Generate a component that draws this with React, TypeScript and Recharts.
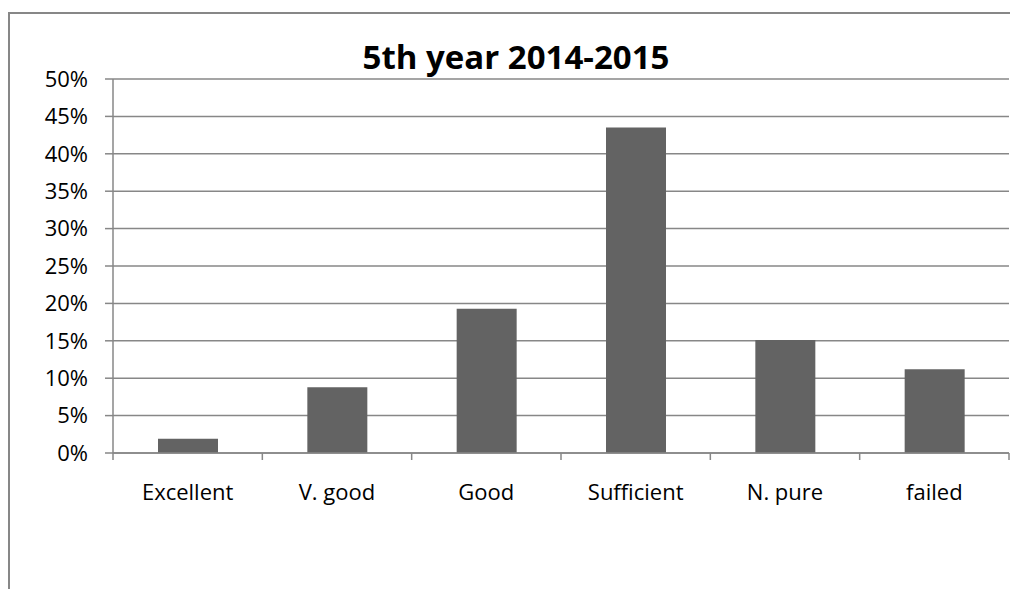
import React from "react";
import { BarChart, Bar, XAxis, YAxis, CartesianGrid } from "recharts";

// Grade distribution, share of students (%)
const grades = ["Excellent", "V. good", "Good", "Sufficient", "N. pure", "failed"];
const shares = [1.9, 8.8, 19.3, 43.5, 15.1, 11.2];
const yTicks = [0, 5, 10, 15, 20, 25, 30, 35, 40, 45, 50];

const chartTitle = "5th year 2014-2015";

const data = grades.map((grade, i) => ({ grade, share: shares[i] }));

const LINE = "#878787";
const FONT = "'Open Sans', 'DejaVu Sans', sans-serif";

// category label centred under the bar, tick mark on the band boundary
function GradeTick(props: any) {
  const { x, y, payload, index } = props;
  const half = payload?.offset ?? 74.7;
  const top = y - 31;
  return (
    <g>
      <line x1={x - half} y1={top} x2={x - half} y2={top + 7} stroke={LINE} strokeWidth={1.5} />
      {index === grades.length - 1 && (
        <line x1={x + half} y1={top} x2={x + half} y2={top + 7} stroke={LINE} strokeWidth={1.5} />
      )}
      <text x={x} y={y} dy="0.71em" textAnchor="middle" fill="#000" fontSize={22} fontFamily={FONT}>
        {payload.value}
      </text>
    </g>
  );
}

export default function App() {
  return (
    <div style={{ position: "absolute", left: 0, top: 0, width: 1010, height: 589, overflow: "hidden", background: "#fff" }}>
      {/* chart frame: only the left and top edges fall inside the view */}
      <div
        style={{
          position: "absolute",
          left: 8,
          top: 12,
          width: 1002,
          height: 577,
          borderLeft: `2px solid ${LINE}`,
          borderTop: `2px solid ${LINE}`,
          boxSizing: "border-box",
        }}
      />
      <BarChart
        width={1010}
        height={589}
        data={data}
        margin={{ top: 79, right: 1, left: 0, bottom: 76 }}
        style={{ position: "absolute", left: 0, top: 0 }}
      >
        <CartesianGrid vertical={false} stroke={LINE} strokeWidth={1.5} />
        <XAxis
          dataKey="grade"
          height={60}
          axisLine={{ stroke: LINE, strokeWidth: 1.5 }}
          tickLine={false}
          tickSize={7}
          tickMargin={24}
          interval={0}
          tick={<GradeTick />}
        />
        <YAxis
          width={113}
          domain={[0, 50]}
          ticks={yTicks}
          interval={0}
          tickFormatter={(v) => `${v}%`}
          axisLine={{ stroke: LINE, strokeWidth: 1.5 }}
          tickLine={{ stroke: LINE, strokeWidth: 1.5 }}
          tickSize={8}
          tickMargin={17}
          tick={{ fill: "#000", fontSize: 22, fontFamily: FONT }}
        />
        <Bar dataKey="share" fill="#636363" barSize={60} isAnimationActive={false} />
      </BarChart>
      <svg width={1010} height={589} style={{ position: "absolute", left: 0, top: 0, pointerEvents: "none" }}>
        <text x={516} y={69} textAnchor="middle" fontSize={33} fontWeight="bold" fontFamily={FONT} fill="#000">
          {chartTitle}
        </text>
      </svg>
    </div>
  );
}
